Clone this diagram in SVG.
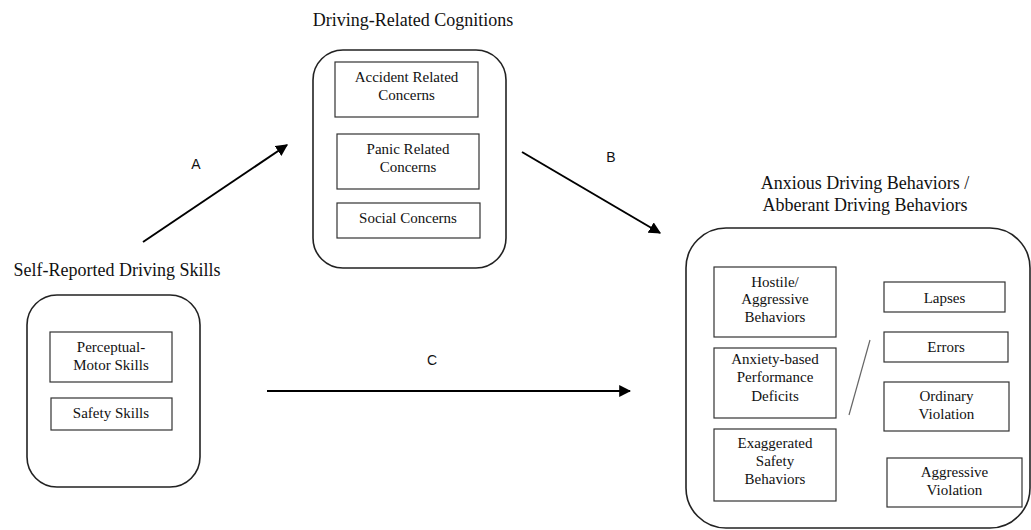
<svg xmlns="http://www.w3.org/2000/svg" width="1031" height="530" viewBox="0 0 1031 530">
<style>
.bg{fill:#fff}
.cont{fill:none;stroke:#222;stroke-width:1.6}
.box{fill:#fff;stroke:#333;stroke-width:1.2}
.t{font-family:"Liberation Serif","Times New Roman",serif;font-size:15px;fill:#111;text-anchor:middle}
.title{font-family:"Liberation Serif","Times New Roman",serif;font-size:18px;fill:#111;text-anchor:middle}
.lbl{font-family:"Liberation Sans",Arial,sans-serif;font-size:14px;fill:#111;text-anchor:middle}
.arr{stroke:#000;stroke-width:2;fill:none;marker-end:url(#ah)}
</style>
<defs>
<marker id="ah" viewBox="0 0 10 10" refX="9" refY="5" markerWidth="6" markerHeight="6" markerUnits="strokeWidth" orient="auto">
<path d="M0,0 L10,5 L0,10 z" fill="#000"/>
</marker>
</defs>
<rect class="bg" x="0" y="0" width="1031" height="530"/>

<g id="skills">
<text class="title" x="117" y="276">Self-Reported Driving Skills</text>
<rect class="cont" x="27" y="295" width="173" height="192" rx="30"/>
<g id="perceptual">
<rect class="box" x="50" y="332" width="122" height="50"/>
<text class="t" x="111" y="352">Perceptual-</text>
<text class="t" x="111" y="370">Motor Skills</text>
</g>
<g id="safety">
<rect class="box" x="51" y="398" width="121" height="32"/>
<text class="t" x="111" y="418">Safety Skills</text>
</g>
</g>

<g id="cognitions">
<text class="title" x="413" y="26">Driving-Related Cognitions</text>
<rect class="cont" x="313" y="50" width="193" height="218" rx="30"/>
<g id="accident">
<rect class="box" x="335" y="62" width="143" height="55"/>
<text class="t" x="406.5" y="82">Accident Related</text>
<text class="t" x="406.5" y="100">Concerns</text>
</g>
<g id="panic">
<rect class="box" x="337" y="134" width="142" height="55"/>
<text class="t" x="408" y="154">Panic Related</text>
<text class="t" x="408" y="172">Concerns</text>
</g>
<g id="social">
<rect class="box" x="337" y="203" width="143" height="35"/>
<text class="t" x="408" y="223">Social Concerns</text>
</g>
</g>

<g id="behaviors">
<text class="title" x="865" y="189">Anxious Driving Behaviors /</text>
<text class="title" x="865" y="211">Abberant Driving Behaviors</text>
<rect class="cont" x="686" y="228" width="344" height="300" rx="40"/>
<g id="hostile">
<rect class="box" x="714" y="267" width="122" height="70"/>
<text class="t" x="775" y="287">Hostile/</text>
<text class="t" x="775" y="304">Aggressive</text>
<text class="t" x="775" y="322">Behaviors</text>
</g>
<g id="anxiety">
<rect class="box" x="714" y="348" width="122" height="70"/>
<text class="t" x="775" y="364">Anxiety-based</text>
<text class="t" x="775" y="382">Performance</text>
<text class="t" x="775" y="401">Deficits</text>
</g>
<g id="exaggerated">
<rect class="box" x="714" y="429" width="122" height="72"/>
<text class="t" x="775" y="448">Exaggerated</text>
<text class="t" x="775" y="466">Safety</text>
<text class="t" x="775" y="484">Behaviors</text>
</g>
<g id="lapses">
<rect class="box" x="884" y="282" width="121" height="30"/>
<text class="t" x="944.5" y="303">Lapses</text>
</g>
<g id="errors">
<rect class="box" x="884" y="332" width="124" height="30"/>
<text class="t" x="946" y="352">Errors</text>
</g>
<g id="ordinary">
<rect class="box" x="884" y="382" width="125" height="49"/>
<text class="t" x="946.5" y="401">Ordinary</text>
<text class="t" x="946.5" y="419">Violation</text>
</g>
<g id="aggressive">
<rect class="box" x="887" y="458" width="135" height="49"/>
<text class="t" x="954.5" y="477">Aggressive</text>
<text class="t" x="954.5" y="495">Violation</text>
</g>
<line x1="870" y1="340" x2="849" y2="415" stroke="#666" stroke-width="1.2"/>
</g>

<g id="connectors">
<line class="arr" x1="143" y1="242" x2="287" y2="145"/>
<text class="lbl" x="196" y="169">A</text>
<line class="arr" x1="522" y1="152" x2="660" y2="233"/>
<text class="lbl" x="611" y="162">B</text>
<line class="arr" x1="267" y1="391" x2="630" y2="391"/>
<text class="lbl" x="432" y="365">C</text>
</g>
</svg>
